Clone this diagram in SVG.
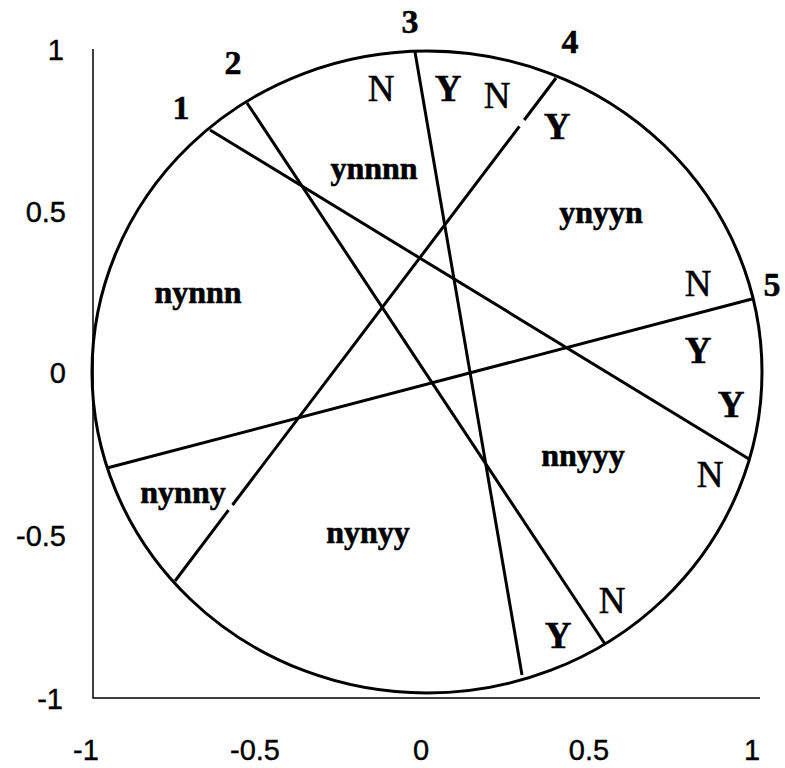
<svg xmlns="http://www.w3.org/2000/svg" width="785" height="768" viewBox="0 0 785 768">
<style>
.axis{stroke:#000;stroke-width:1.5;fill:none}
.chord{stroke:#000;stroke-width:3;fill:none}
.tick{font-family:"Liberation Sans",Arial,sans-serif;font-size:29px;fill:#000;stroke:#000;stroke-width:0.4}
.num{font-family:"Liberation Serif","Times New Roman",serif;font-size:34px;font-weight:bold;fill:#000;stroke:#000;stroke-width:0.5;text-anchor:middle}
.reg{font-family:"Liberation Serif","Times New Roman",serif;font-size:32px;font-weight:bold;fill:#000;stroke:#000;stroke-width:0.6;text-anchor:middle}
.yes{font-family:"Liberation Serif","Times New Roman",serif;font-size:37px;font-weight:bold;fill:#000;stroke:#000;stroke-width:0.5;text-anchor:middle}
.no{font-family:"Liberation Serif","Times New Roman",serif;font-size:37px;fill:#000;stroke:#000;stroke-width:0.5;text-anchor:middle}
</style>
<rect width="785" height="768" fill="#fff"/>
<g id="axes">
<path class="axis" d="M93,49 V698 H760"/>
<g class="tick" text-anchor="end">
<text x="64" y="60">1</text>
<text x="66" y="222">0.5</text>
<text x="66" y="383">0</text>
<text x="66" y="546">-0.5</text>
<text x="63" y="709">-1</text>
</g>
<g class="tick" text-anchor="middle">
<text x="86" y="760">-1</text>
<text x="255" y="760">-0.5</text>
<text x="421" y="760">0</text>
<text x="589" y="760">0.5</text>
<text x="752" y="760">1</text>
</g>
</g>
<g id="circle">
<ellipse class="chord" cx="427" cy="372" rx="335" ry="321"/>
</g>
<g id="connectors">
<line id="line1" class="chord" x1="210" y1="130" x2="749" y2="459"/>
<line id="line2" class="chord" x1="247" y1="103" x2="605" y2="644"/>
<line id="line3" class="chord" x1="415" y1="52" x2="522" y2="675"/>
<path id="line4" class="chord" d="M556,78 L524.2,120 M519.4,126.4 L232.5,505 M228.5,510.2 L175,581"/>
<line id="line5" class="chord" x1="107" y1="468" x2="752" y2="299"/>
</g>
<g id="line-numbers">
<text class="num" x="181" y="119">1</text>
<text class="num" x="233" y="74">2</text>
<text class="num" x="410" y="33">3</text>
<text class="num" x="570" y="53">4</text>
<text class="num" x="772" y="296">5</text>
</g>
<g id="side-labels">
<text class="no" x="381" y="101">N</text>
<text class="yes" x="448" y="101">Y</text>
<text class="no" x="497" y="108">N</text>
<text class="yes" x="557" y="139">Y</text>
<text class="no" x="698" y="296">N</text>
<text class="yes" x="698" y="363">Y</text>
<text class="yes" x="731" y="417">Y</text>
<text class="no" x="710" y="487">N</text>
<text class="no" x="612" y="613">N</text>
<text class="yes" x="558" y="648">Y</text>
</g>
<g id="region-labels">
<text id="r-ynnnn" class="reg" x="374" y="179">ynnnn</text>
<text id="r-nynnn" class="reg" x="198" y="303">nynnn</text>
<text id="r-ynyyn" class="reg" x="601" y="223">ynyyn</text>
<text id="r-nnyyy" class="reg" x="583" y="466">nnyyy</text>
<text id="r-nynny" class="reg" x="183" y="503">nynny</text>
<text id="r-nynyy" class="reg" x="368" y="543">nynyy</text>
</g>
</svg>
